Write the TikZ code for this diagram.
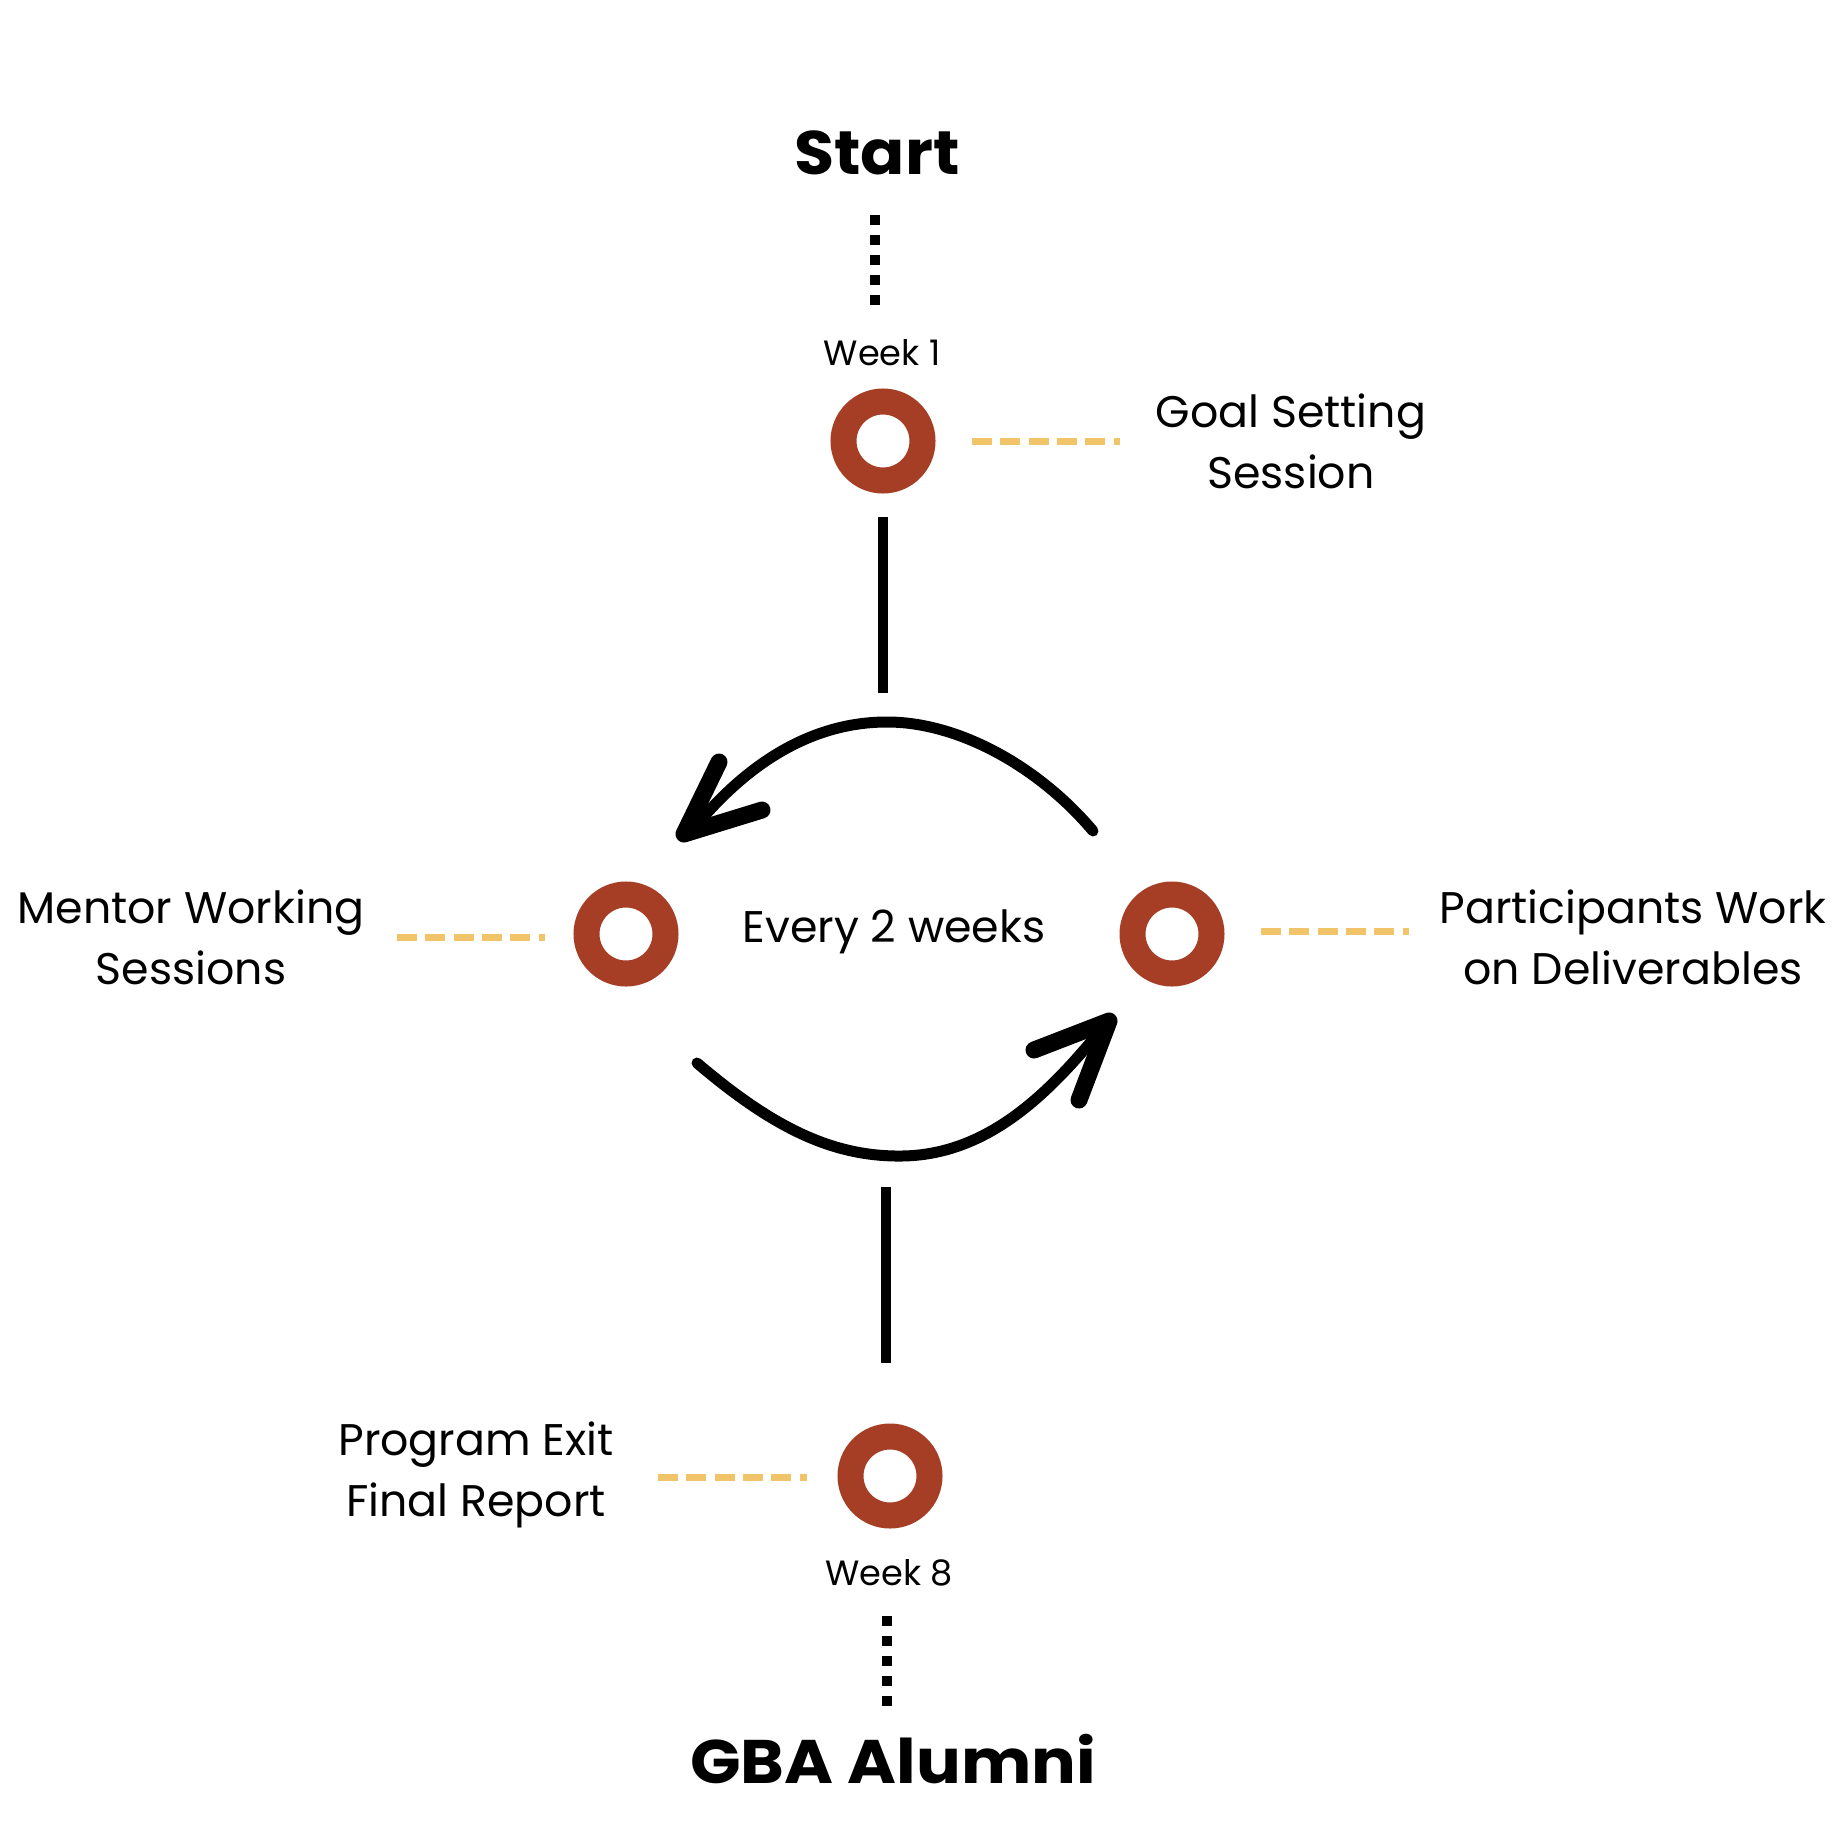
\documentclass[tikz,border=0pt]{standalone}
\usepackage{fontspec}
\setmainfont{Poppins}
\definecolor{rust}{RGB}{166,62,38}
\definecolor{gold}{RGB}{242,196,106}
\tikzset{
  ring/.style={circle, draw=rust, line width=2.6mm, minimum size=7.9mm, inner sep=0pt},
  lbl/.style={font=\fontsize{12.6}{17.3}\selectfont, align=center, inner sep=0pt, anchor=base},
  wk/.style={font=\fontsize{10}{12}\selectfont, inner sep=0pt, anchor=base},
  ttl/.style={font=\fontsize{17.5}{20}\selectfont\bfseries, inner sep=0pt, anchor=base},
  dots/.style={line width=1mm, dash pattern=on 1mm off 1mm},
  gdash/.style={draw=gold, line width=0.7mm, dash pattern=on 2mm off 0.83mm},
  solid line/.style={line width=1.05mm},
  curve/.style={line width=1.1mm, line cap=round},
  headstroke/.style={line width=1.7mm, line cap=round, line join=round}
}
\begin{document}
\begin{tikzpicture}[x=0.1mm,y=-0.1mm]
\path[use as bounding box] (0,0) rectangle (1843,1843);

% titles and week labels
\node[ttl] (start) at (877,175) {\scalebox{1.06}[1]{Start}};
\node[wk] (wk1) at (882,365) {Week 1};
\node[wk] (wk8) at (889,1585) {Week 8};
\node[ttl] (alumni) at (893,1783) {\scalebox{1.08}[1]{GBA Alumni}};

% rings
\node[ring] (r1) at (883,441) {};
\node[ring] (rl) at (626,934) {};
\node[ring] (rr) at (1172,934) {};
\node[ring] (r8) at (890,1476) {};

% labels (anchor base = last line baseline)
\node[lbl] (goal) at (1291,488) {Goal Setting\\Session};
\node[lbl] (mentor) at (191,984) {Mentor Working\\Sessions};
\node[lbl] (part) at (1633,984) {Participants Work\\on Deliverables};
\node[lbl] (exit) at (476,1516) {Program Exit\\Final Report};
\node[lbl] (every) at (894,942) {Every 2 weeks};

% dotted connectors
\coordinate (d1a) at (875,215); \coordinate (d1b) at (875,306);
\coordinate (d8a) at (887,1616); \coordinate (d8b) at (887,1707);
\draw[dots] (d1a) -- (d1b);
\draw[dots] (d8a) -- (d8b);

% gold dashes
\coordinate (g1a) at (972,441); \coordinate (g1b) at (1120,441);
\coordinate (gla) at (397,937); \coordinate (glb) at (545,937);
\coordinate (gra) at (1261,931); \coordinate (grb) at (1409,931);
\coordinate (g8a) at (658,1477); \coordinate (g8b) at (807,1477);
\draw[gdash] (g1a) -- (g1b);
\draw[gdash] (gla) -- (glb);
\draw[gdash] (gra) -- (grb);
\draw[gdash] (g8a) -- (g8b);

% solid verticals
\coordinate (s1a) at (883,517); \coordinate (s1b) at (883,693);
\coordinate (s8a) at (886,1187); \coordinate (s8b) at (886,1363);
\draw[solid line] (s1a) -- (s1b);
\draw[solid line] (s8a) -- (s8b);

% top arrow (right to left)
\coordinate (ta) at (1093,831);
\coordinate (tm) at (887,722);
\coordinate (te) at (700,821);
\coordinate (ttip) at (684,834);
\coordinate (tb1) at (719,762);
\coordinate (tb2) at (762,810);
\draw[curve] (ta) .. controls (1040,768) and (960,722) .. (tm)
  .. controls (810,722) and (748,765) .. (te);
\draw[headstroke] (tb1) -- (ttip) -- (tb2);

% bottom arrow (left to right)
\coordinate (ba) at (697,1063);
\coordinate (bm) at (902,1156);
\coordinate (be) at (1095,1037);
\coordinate (btip) at (1109,1021);
\coordinate (bb1) at (1034,1050);
\coordinate (bb2) at (1079,1100);
\draw[curve] (ba) .. controls (770,1125) and (830,1157) .. (bm)
  .. controls (985,1155) and (1045,1097) .. (be);
\draw[headstroke] (bb1) -- (btip) -- (bb2);
\end{tikzpicture}
\end{document}
